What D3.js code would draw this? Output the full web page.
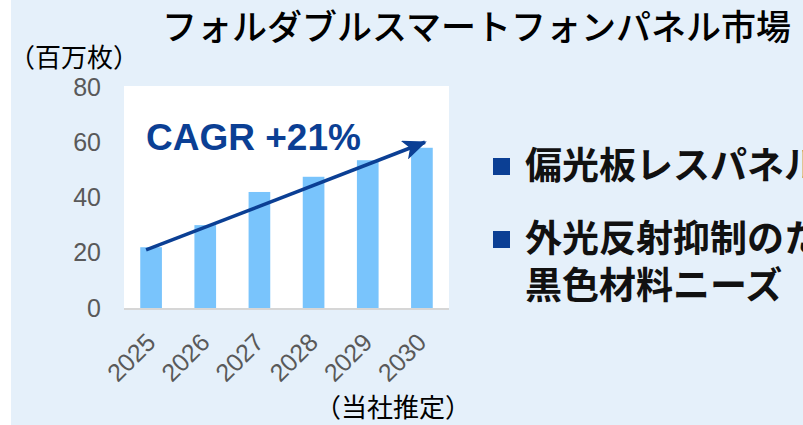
<!DOCTYPE html>
<html>
<head>
<meta charset="utf-8">
<script src="https://cdn.jsdelivr.net/npm/d3@7"></script>
<style>
  html, body { margin: 0; padding: 0; background: #ffffff; }
  svg { display: block; }
  .jp { font-family: "Noto Sans CJK JP", "Noto Sans", sans-serif; }
  .num { font-family: "Liberation Sans", Arial, sans-serif; }
</style>
</head>
<body>
<div id="chart"></div>
<script>
// chart data
var years = ['2025', '2026', '2027', '2028', '2029', '2030'];
var panels = [22, 30, 42, 47.5, 53.5, 58];
var yTicks = [0, 20, 40, 60, 80];
var arrowFrom = ['2025', 21];
var arrowTo = ['2030', 60];
var titleText = 'フォルダブルスマートフォンパネル市場';
var unitText = '（百万枚）';
var sourceText = '（当社推定）';
var cagrText = 'CAGR +21%';
var bullets = [['偏光板レスパネル'], ['外光反射抑制のため', '黒色材料ニーズ']];

(function () {
  var W = 803, H = 425;

  // plot box
  var left = 124, right = 449, top = 87, bottom = 308;

  var svg = d3.select('#chart')
      .append('svg')
      .attr('width', W)
      .attr('height', H);

  // light blue panel
  svg.append('rect')
      .attr('x', 11).attr('y', 0)
      .attr('width', W - 11).attr('height', H)
      .attr('fill', '#e5f0fa');

  // x scale for bars
  var x = d3.scaleBand()
      .domain(years)
      .range([left, right])
      .paddingInner(0.6)
      .paddingOuter(0.3);

  // y scale
  var y = d3.scaleLinear()
      .domain([0, 80])
      .range([bottom, top]);

  // white plot area
  svg.append('rect')
      .attr('x', left).attr('y', y(80) - 1)
      .attr('width', right - left).attr('height', y(0) - y(80) + 1)
      .attr('fill', '#ffffff');

  // bars
  svg.selectAll('.bar')
      .data(panels)
      .enter().append('rect')
      .attr('class', 'bar')
      .attr('x', function(d, i) { return x(years[i]); })
      .attr('y', function(d) { return y(d); })
      .attr('width', x.bandwidth())
      .attr('height', function(d) { return y(0) - y(d); })
      .attr('fill', '#79c4fc');

  // baseline
  svg.append('line')
      .attr('x1', left).attr('x2', right)
      .attr('y1', y(0) + 1).attr('y2', y(0) + 1)
      .attr('stroke', '#d6d6d6')
      .attr('stroke-width', 2);

  // y axis labels (no axis line)
  var yAxis = svg.append('g')
      .attr('class', 'y axis num')
      .attr('transform', 'translate(101,0)')
      .call(d3.axisLeft(y).tickValues(yTicks).tickSize(0).tickPadding(0));
  yAxis.select('.domain').remove();
  yAxis.selectAll('text')
      .attr('font-size', 25)
      .attr('fill', '#595959')
      .attr('font-family', '"Liberation Sans", Arial, sans-serif');

  // x axis labels, rotated
  var xAxis = svg.append('g')
      .attr('class', 'x axis')
      .attr('transform', 'translate(0,' + bottom + ')')
      .call(d3.axisBottom(x).tickSize(0));
  xAxis.select('.domain').remove();
  xAxis.selectAll('text')
      .attr('font-size', 25)
      .attr('fill', '#595959')
      .attr('font-family', '"Liberation Sans", Arial, sans-serif')
      .attr('x', 0).attr('y', 0).attr('dy', 0)
      .attr('transform', 'translate(6,36) rotate(-45)')
      .style('text-anchor', 'end');

  // arrow head
  svg.append('defs').append('marker')
      .attr('id', 'head')
      .attr('markerUnits', 'userSpaceOnUse')
      .attr('viewBox', '0 0 24 20')
      .attr('refX', 22).attr('refY', 10)
      .attr('markerWidth', 24).attr('markerHeight', 20)
      .attr('orient', 'auto')
      .append('path')
      .attr('d', 'M0,0 L24,10 L0,20 L6,10 Z')
      .attr('fill', '#0b3f94');

  // CAGR arrow
  var bw = x.bandwidth();
  svg.append('line')
      .attr('x1', x(arrowFrom[0]) + bw / 2 - 5)
      .attr('y1', y(arrowFrom[1]))
      .attr('x2', x(arrowTo[0]) + bw / 2 + 3)
      .attr('y2', y(arrowTo[1]))
      .attr('stroke', '#0b3f94')
      .attr('stroke-width', 3.5)
      .attr('marker-end', 'url(#head)');

  svg.append('text')
      .attr('class', 'num')
      .attr('x', 146).attr('y', 150)
      .attr('font-size', 37)
      .attr('font-weight', 'bold')
      .attr('fill', '#0b3f94')
      .text(cagrText);

  // title
  svg.append('text')
      .attr('class', 'jp')
      .attr('x', 162).attr('y', 40)
      .attr('font-size', 35)
      .attr('font-weight', 500)
      .attr('fill', '#000000')
      .text(titleText);

  // unit label
  svg.append('text')
      .attr('class', 'jp')
      .attr('x', 9).attr('y', 67)
      .attr('font-size', 26)
      .attr('fill', '#000000')
      .text(unitText);

  // source label
  svg.append('text')
      .attr('class', 'jp')
      .attr('x', 315).attr('y', 417)
      .attr('font-size', 26)
      .attr('fill', '#000000')
      .text(sourceText);

  // bullets on the right
  var bulletY = [179, 252];
  var lineGap = 47;
  bullets.forEach(function(lines, i) {
    svg.append('rect')
        .attr('x', 493).attr('y', bulletY[i] - 21)
        .attr('width', 17).attr('height', 17)
        .attr('fill', '#0b3f94');
    lines.forEach(function(t, j) {
      svg.append('text')
          .attr('class', 'jp')
          .attr('x', 525).attr('y', bulletY[i] + j * lineGap)
          .attr('font-size', 37)
          .attr('font-weight', 'bold')
          .attr('fill', '#111111')
          .text(t);
    });
  });
})();
</script>
</body>
</html>
